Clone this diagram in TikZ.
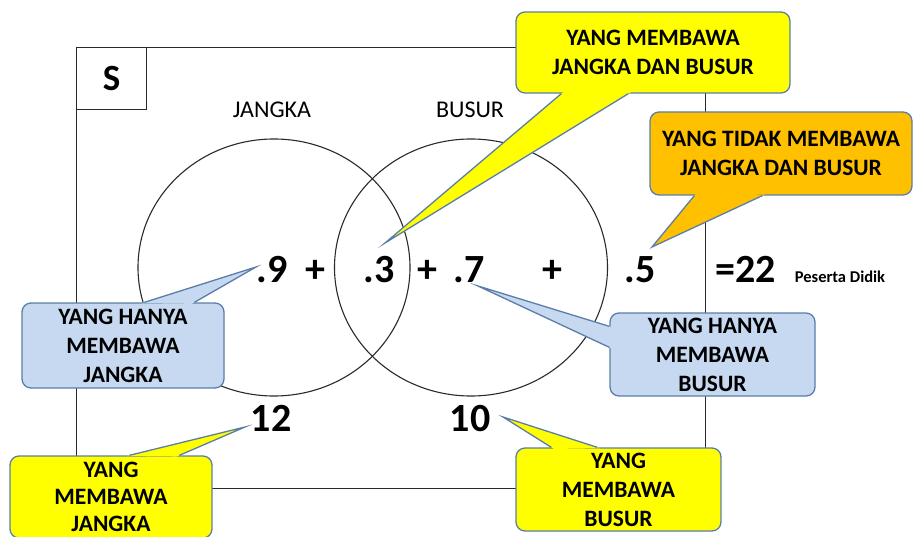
\documentclass[tikz,border=0pt]{standalone}
\usepackage{fontspec}
\setmainfont{Carlito}
\usetikzlibrary{calc}
\definecolor{cyel}{HTML}{FFFF00}
\definecolor{corg}{HTML}{FFC000}
\definecolor{cblu}{HTML}{C6D9F1}
\definecolor{cedge}{HTML}{5A7EA8}
\definecolor{cline}{HTML}{2A2A2A}
\tikzset{
  callout/.style={draw=cedge, line width=1.3pt, rounded corners=9pt, align=center,
    font=\bfseries\fontsize{23.5}{29}\selectfont, inner sep=0pt},
  tailedge/.style={draw=cedge, line width=1.3pt, line join=miter, miter limit=30},
  num/.style={font=\bfseries\fontsize{40}{44}\selectfont, inner sep=0pt, anchor=base},
  setlabel/.style={font=\fontsize{24}{28}\selectfont, inner sep=0pt},
  venn/.style={draw=cline, line width=1.1pt},
}
\newcommand\calltail[4]{%
  \fill[#1] ($(#2)!-3pt!(#4)$) -- (#4) -- ($(#3)!-3pt!(#4)$) -- cycle;
  \draw[tailedge] (#2) -- (#4) -- (#3);}
\begin{document}
\begin{tikzpicture}[x=1pt,y=-1pt]
\useasboundingbox (0,0) rectangle (915,537);
\clip (0,0) rectangle (915,537);
% universe
\node[venn, minimum width=629pt, minimum height=441pt, anchor=north west, inner sep=0pt] (U) at (76,47) {};
\node[venn, minimum width=70pt, minimum height=62pt, anchor=north west, inner sep=0pt,
  font=\bfseries\fontsize{37}{40}\selectfont] (S) at (76,47) {S};
% sets
\draw[venn] (274,267.5) ellipse [x radius=136, y radius=128.5];
\draw[venn] (471,267.5) ellipse [x radius=136.5, y radius=128.5];
\node[setlabel] (LJ) at (272,110) {JANGKA};
\node[setlabel] (LB) at (470,110) {BUSUR};
% numbers
\node[num] (n9) at (272,283) {.9};
\node[num] (p1) at (315,283) {+};
\node[num] (n3) at (379,283) {.3};
\node[num] (p2) at (427.5,283) {+};
\node[num] (n7) at (469,283) {.7};
\node[num] (p3) at (552,283) {+};
\node[num] (n5) at (640,283) {.5};
\node[num] (tot) at (746,283) {=22};
\node[font=\bfseries\fontsize{16.5}{18}\selectfont, inner sep=0pt, anchor=base] (pd) at (840,282) {Peserta Didik};
\node[num] (n12) at (271,431) {12};
\node[num] (n10) at (470,431) {10};
% callout 1
\node[callout, fill=cyel, minimum width=274pt, minimum height=81pt] (c1) at (653,52.5)
  {YANG MEMBAWA\\JANGKA DAN BUSUR};
\coordinate (c1a) at ($(c1.south west)+(46,0)$);
\coordinate (c1b) at ($(c1.south west)+(113,0)$);
\coordinate (t1) at (385,243);
\calltail{cyel}{c1a}{c1b}{t1}
% callout 2
\node[callout, fill=corg, minimum width=262pt, minimum height=83pt] (c2) at (781,153.5)
  {YANG TIDAK MEMBAWA\\JANGKA DAN BUSUR};
\coordinate (c2a) at ($(c2.south west)+(45,0)$);
\coordinate (c2b) at ($(c2.south west)+(113,0)$);
\coordinate (t2) at (652,247);
\calltail{corg}{c2a}{c2b}{t2}
% callout 3
\node[callout, fill=cblu, minimum width=202pt, minimum height=85pt] (c3) at (123,345.5)
  {YANG HANYA\\MEMBAWA\\JANGKA};
\coordinate (c3a) at ($(c3.north west)+(123,0)$);
\coordinate (c3b) at ($(c3.north west)+(173,0)$);
\coordinate (t3) at (256,267);
\calltail{cblu}{c3a}{c3b}{t3}
% callout 4
\node[callout, fill=cblu, minimum width=205pt, minimum height=83pt] (c4) at (712.5,354.5)
  {YANG HANYA\\MEMBAWA\\BUSUR};
\coordinate (c4a) at ($(c4.north west)+(0,14)$);
\coordinate (c4b) at ($(c4.north west)+(0,35)$);
\coordinate (t4) at (478,286);
\calltail{cblu}{c4a}{c4b}{t4}
% callout 5
\node[callout, fill=cyel, minimum width=202pt, minimum height=82pt,
  font=\bfseries\fontsize{23.5}{27}\selectfont] (c5) at (111,497)
  {YANG\\MEMBAWA\\JANGKA};
\coordinate (c5a) at ($(c5.north west)+(120,0)$);
\coordinate (c5b) at ($(c5.north west)+(170,0)$);
\coordinate (t5) at (245,427);
\calltail{cyel}{c5a}{c5b}{t5}
% callout 6
\node[callout, fill=cyel, minimum width=205pt, minimum height=83pt] (c6) at (618.5,489.5)
  {YANG\\MEMBAWA\\BUSUR};
\coordinate (c6a) at ($(c6.north west)+(36,0)$);
\coordinate (c6b) at ($(c6.north west)+(82,0)$);
\coordinate (t6) at (503,417);
\calltail{cyel}{c6a}{c6b}{t6}
\end{tikzpicture}
\end{document}
